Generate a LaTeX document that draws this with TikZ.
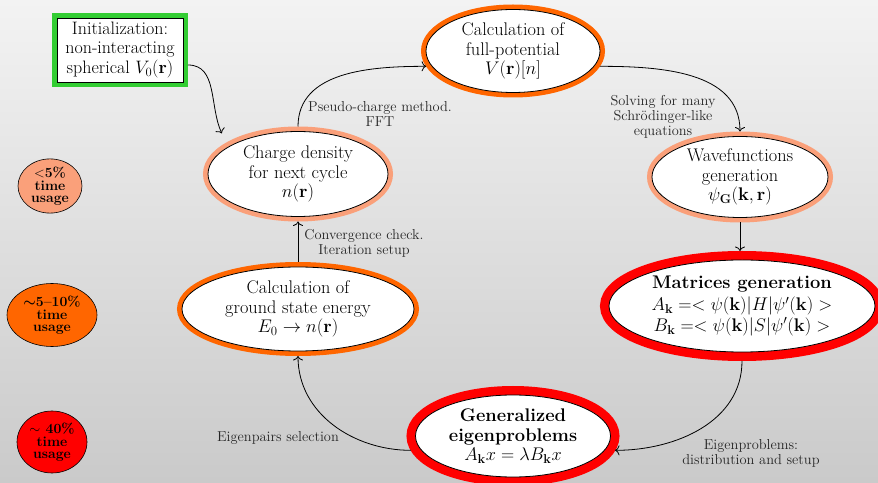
\RequirePackage{fix-cm}
\documentclass[tikz,border=0pt]{standalone}
\definecolor{ringsalmon}{RGB}{250,160,122}
\definecolor{ringorange}{RGB}{255,102,0}
\definecolor{ringred}{RGB}{255,0,0}
\definecolor{ringgreen}{RGB}{50,205,50}
\definecolor{bgtop}{RGB}{243,243,243}
\definecolor{bgbot}{RGB}{202,202,202}
\usetikzlibrary{shapes.geometric,arrows.meta}

\begin{document}
\begin{tikzpicture}[x=1pt,y=1pt,
    stage/.style={ellipse, draw=black, line width=0.8pt, fill=white, align=center,
        inner sep=0pt, font=\fontsize{18.3}{19.5}\selectfont},
    thinring/.style={preaction={draw=#1, line width=10pt}, outer sep=5pt},
    thickring/.style={preaction={draw=#1, line width=18pt}, outer sep=9pt},
    note/.style={align=center, text=black!85, font=\fontsize{14.4}{15}\selectfont},
    legend/.style={ellipse, draw=black, line width=0.6pt, align=center, inner sep=0pt,
        font=\fontsize{14}{13.5}\selectfont\bfseries},
    link/.style={-{To[length=4.5pt,width=10pt]}, line width=0.8pt}]
    % background
    \shade[top color=bgtop, bottom color=bgbot] (0,0) rectangle (878,482);
    \useasboundingbox (0,0) rectangle (878,482);

    % time usage legend
    \node[legend, fill=ringsalmon, minimum width=64pt, minimum height=53pt] (lowleg) at (50,296)
        {$<$5\%\\time\\[-2pt]usage};
    \node[legend, fill=ringorange, minimum width=90pt, minimum height=63pt] (midleg) at (52,167)
        {{\boldmath$\sim$}5--10\%\\time\\[-2pt]usage};
    \node[legend, fill=ringred, minimum width=70pt, minimum height=62pt] (highleg) at (52,40)
        {$\sim$ 40\%\\time\\[-2pt]usage};

    % cycle stages
    \node[draw=black, line width=0.8pt, fill=white, align=center, inner sep=0pt,
        font=\fontsize{18}{19.5}\selectfont, thinring=ringgreen,
        minimum width=126pt, minimum height=64pt] (init) at (120,432)
        {Initialization:\\non-interacting\\spherical $V_0(\mathbf{r})$};
    \node[stage, thinring=ringsalmon, minimum width=180pt, minimum height=85pt] (charge) at (298,308)
        {Charge density\\for next cycle\\$n(\mathbf{r})$};
    \node[stage, thinring=ringorange, minimum width=174pt, minimum height=83pt] (pot) at (513,431)
        {Calculation of\\full-potential\\$V(\mathbf{r})[n]$};
    \node[stage, thinring=ringsalmon, minimum width=176pt, minimum height=81pt] (wave) at (740,305)
        {Wavefunctions\\generation\\$\psi_{\mathbf{G}}(\mathbf{k},\mathbf{r})$};
    \node[stage, thickring=ringred, minimum width=266pt, minimum height=92pt] (mat) at (742,176)
        {\textbf{Matrices generation}\\[3pt]
         $A_{\mathbf{k}} =< \psi(\mathbf{k})|H|\psi'(\mathbf{k}) >$\\[1pt]
         $B_{\mathbf{k}} =< \psi(\mathbf{k})|S|\psi'(\mathbf{k}) >$};
    \node[stage, thickring=ringred, minimum width=195pt, minimum height=82pt] (eigen) at (513,46)
        {\textbf{Generalized}\\\textbf{eigenproblems}\\$A_{\mathbf{k}}x = \lambda B_{\mathbf{k}}x$};
    \node[stage, thinring=ringorange, minimum width=232pt, minimum height=84pt] (ground) at (298,173)
        {Calculation of\\ground state energy\\$E_0 \to n(\mathbf{r})$};

    % connectors
    \draw[link] ([yshift=-15pt]init.east) to[out=0,in=115] ([shift={(-9pt,7pt)}]charge.north west);
    \draw[link] (charge.north) to[out=90,in=180] (pot.190);
    \draw[link] (pot.-10) to[out=0,in=90] (wave.north);
    \draw[link] (wave.south) -- (wave.south |- mat.north);
    \draw[link] (mat.south) to[out=-90,in=0] (eigen.-8);
    \draw[link] (eigen.188) to[out=180,in=-90] (ground.south);
    \draw[link] (ground.north) -- (charge.south);

    % connector notes
    \node[note] (pseudo) at (380,368) {Pseudo-charge method.\\FFT};
    \node[note] (solving) at (663,365) {Solving for many\\Schr\"odinger-like\\equations};
    \node[note] (conv) at (364,239) {Convergence check.\\Iteration setup};
    \node[note] (eigsel) at (278,44) {Eigenpairs selection};
    \node[note] (eigprob) at (751,29) {Eigenproblems:\\distribution and setup};
\end{tikzpicture}
\end{document}
